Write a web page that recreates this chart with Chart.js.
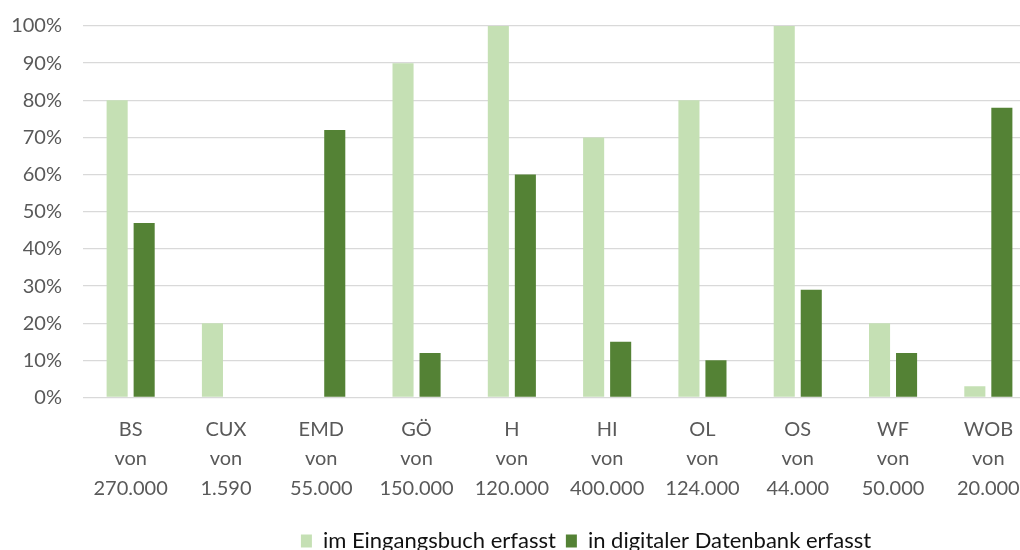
<!DOCTYPE html>
<html>
<head>
<meta charset="utf-8">
<script src="https://cdn.jsdelivr.net/npm/chart.js@4/dist/chart.umd.min.js"></script>
<style>
  html, body { margin: 0; padding: 0; background: #fff; overflow: hidden; }
  #wrap { width: 1040px; height: 562px; }
</style>
</head>
<body>
<div id="wrap"><canvas id="chart"></canvas></div>
<script>
/* Erfassung der Bestände je Standort, Anteil in Prozent */

var REGIONS = ['BS', 'CUX', 'EMD', 'GÖ', 'H', 'HI', 'OL', 'OS', 'WF', 'WOB'];
var TOTALS = ['270.000', '1.590', '55.000', '150.000', '120.000', '400.000', '124.000', '44.000', '50.000', '20.000'];
var EINGANGSBUCH = [80, 20, 0, 90, 100, 70, 80, 100, 20, 3];
var DATENBANK = [47, 0, 72, 12, 60, 15, 10, 29, 12, 78];
var SERIES_NAMES = ['im Eingangsbuch erfasst', 'in digitaler Datenbank erfasst'];

var LIGHT_GREEN = '#c5e0b4';
var DARK_GREEN = '#548235';
var GRID_COLOR = '#d9d9d9';
var TICK_COLOR = '#595959';
var LEGEND_SHIFT = 63;

Chart.defaults.font.family = 'Lato, "Open Sans", sans-serif';
Chart.defaults.font.size = 20;

var labels = REGIONS.map(function(r, i) { return [r, 'von', TOTALS[i]]; });

// the legend sits right of centre in the original, nudge it over
var legendShift = {
  id: 'legendShift',
  afterLayout: function(chart) {
    if (!chart.legend) return;
    chart.legend.left += LEGEND_SHIFT;
    chart.legend.right += LEGEND_SHIFT;
  }
};

new Chart(document.getElementById('chart').getContext('2d'), {
  type: 'bar',
  data: {
    labels: labels,
    datasets: [
      {
        label: SERIES_NAMES[0],
        data: EINGANGSBUCH,
        backgroundColor: LIGHT_GREEN,
        categoryPercentage: 0.567,
        barPercentage: 0.78
      },
      {
        label: SERIES_NAMES[1],
        data: DATENBANK,
        backgroundColor: DARK_GREEN,
        categoryPercentage: 0.567,
        barPercentage: 0.78
      }
    ]
  },
  options: {
    responsive: true,
    maintainAspectRatio: false,
    animation: false,
    layout: { padding: { left: 10, top: 26, right: 4, bottom: 0 } },
    scales: {
      x: {
        grid: { display: false, drawTicks: false },
        border: { display: false },
        ticks: {
          color: TICK_COLOR,
          padding: 17,
          maxRotation: 0,
          autoSkip: false,
          font: { size: 20, lineHeight: 1.475 }
        }
      },
      y: {
        min: 0,
        max: 100,
        afterFit: function(scale) { scale.width = 73; },
        grid: { color: GRID_COLOR, lineWidth: 1.3, tickLength: 18, tickColor: 'rgba(0,0,0,0)' },
        border: { display: false },
        ticks: {
          stepSize: 10,
          color: TICK_COLOR,
          padding: 3,
          callback: function(v) { return v + '%'; }
        }
      }
    },
    plugins: {
      legend: {
        position: 'bottom',
        labels: {
          color: '#111',
          boxWidth: 11,
          boxHeight: 13,
          padding: 10,
          font: { size: 22 }
        }
      },
      tooltip: { enabled: false }
    }
  },
  plugins: [legendShift]
});
</script>
</body>
</html>
